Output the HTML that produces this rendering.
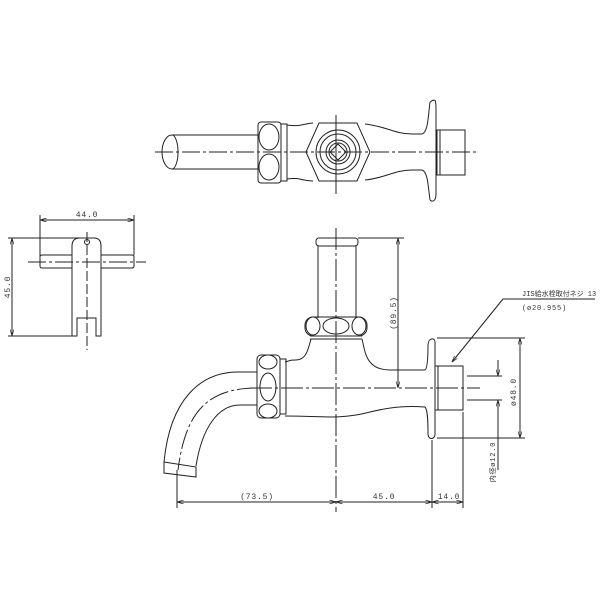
<!DOCTYPE html>
<html><head><meta charset="utf-8"><style>
html,body{margin:0;padding:0;background:#fff;}
svg{display:block;}
text{font-family:"Liberation Mono","Noto Sans CJK JP",monospace;fill:#333;letter-spacing:0.8px;}
</style></head><body>
<svg width="600" height="600" viewBox="0 0 600 600" xmlns="http://www.w3.org/2000/svg">
<defs>
<marker id="a" viewBox="0 0 10 6" refX="10" refY="3" markerWidth="7" markerHeight="4" orient="auto-start-reverse"><path d="M0,0 L10,3 L0,6" fill="none" stroke="#222" stroke-width="1"/></marker>
</defs>
<g fill="none" stroke="#222" stroke-width="1">
<line x1="155" y1="152" x2="476" y2="152" stroke-dasharray="18,3,3,3"/>
<line x1="336" y1="115" x2="336" y2="194"/>
<path d="M258,135 L172,135 A10,17 0 0 0 172,169 L258,169"/>
<path d="M172,135 A6,17 0 0 1 172,169"/>
<rect x="258" y="122" width="23" height="61" rx="3"/>
<ellipse cx="269" cy="137" rx="10" ry="13"/>
<ellipse cx="269" cy="167" rx="10" ry="13"/>
<rect x="281" y="124" width="6" height="57"/>
<path d="M287,125 C300,127 302,124 313,123"/>
<path d="M287,179 C300,177 302,181 313,181"/>
<polygon points="306,152 319,123 357,123 370,152 357,181 319,181"/>
<circle cx="338" cy="152" r="22"/>
<circle cx="338" cy="152" r="18"/>
<circle cx="338" cy="152" r="12"/>
<circle cx="338" cy="152" r="9"/>
<polygon points="338,144 346,152 338,160 330,152"/>
<path d="M365,124 C385,126 395,134 412,134 L422,134 C428,132 428,118 430,102"/>
<path d="M365,180 C385,178 395,170 412,170 L422,170 C428,172 428,186 430,200"/>
<path d="M430,102 C436,98 436,100 436,110 L436,194 C436,202 432,202 430,200"/>
<rect x="437" y="130" width="28" height="45"/>
<line x1="440" y1="130" x2="440" y2="175"/>
<line x1="40" y1="220" x2="134" y2="220" marker-start="url(#a)" marker-end="url(#a)"/>
<line x1="40" y1="215" x2="40" y2="258"/>
<line x1="134" y1="215" x2="134" y2="255"/>
<line x1="12" y1="238" x2="12" y2="336" marker-start="url(#a)" marker-end="url(#a)"/>
<line x1="8" y1="238" x2="90" y2="238"/>
<line x1="8" y1="336" x2="72" y2="336"/>
<path d="M72,336 L72,246 Q72,238 80,238 L94,238 Q101,238 101,246 L101,336 L96,336 L96,318 L77,318 L77,336 Z"/>
<path d="M72,255 L42,255 Q40,255 40,257 L40,266 Q40,268 42,268 L72,268"/>
<path d="M101,255 L132,255 Q134,255 134,257 L134,266 Q134,268 132,268 L101,268"/>
<circle cx="87" cy="242" r="2.5"/>
<line x1="28" y1="262" x2="146" y2="262" stroke-dasharray="18,3,3,3"/>
<line x1="87" y1="232" x2="87" y2="350" stroke-dasharray="10,3"/>
<line x1="336" y1="228" x2="336" y2="512" stroke-dasharray="22,3,3,3"/>
<line x1="250" y1="388" x2="480" y2="388" stroke-dasharray="22,3,3,3"/>
<rect x="316" y="238" width="42" height="8" rx="3"/>
<line x1="318" y1="246" x2="318" y2="318"/>
<line x1="356" y1="246" x2="356" y2="318"/>
<rect x="305" y="317" width="62" height="19" rx="8"/>
<ellipse cx="313" cy="326" rx="7" ry="9"/>
<ellipse cx="336" cy="326" rx="13" ry="8"/>
<ellipse cx="359" cy="326" rx="7" ry="9"/>
<line x1="310" y1="336" x2="362" y2="336"/>
<line x1="310" y1="339" x2="362" y2="339"/>
<path d="M311,339 C308,350 306,360 296,360 C290,360 292,360 285,362"/>
<path d="M362,339 C365,350 365,370 390,370 L425,370 C428,368 428,350 428,345"/>
<path d="M285,416 C320,416 340,420 370,412 C395,406 410,406 425,407 C428,410 428,425 428,434"/>
<path d="M428,345 C428,338 435,337 435,342 L435,434 C435,440 428,440 428,434"/>
<rect x="435" y="366" width="28" height="44"/>
<line x1="438" y1="366" x2="438" y2="410"/>
<rect x="257" y="355" width="23" height="63" rx="4"/>
<rect x="280" y="359" width="6" height="55"/>
<ellipse cx="268" cy="362" rx="9" ry="7"/>
<ellipse cx="268" cy="387" rx="8" ry="14"/>
<ellipse cx="268" cy="411" rx="9" ry="7"/>
<path d="M257,372 L238,372 C200,372 170,400 164,462"/>
<path d="M257,405 L240,405 C218,405 202,428 196,466"/>
<path d="M257,388 C205,388 185,415 178,470" stroke-dasharray="20,3,3,3"/>
<path d="M164,462 L196,467 L196,477 L164,473 Z"/>
<line x1="177" y1="470" x2="177" y2="508"/>
<line x1="432" y1="440" x2="432" y2="508"/>
<line x1="463" y1="412" x2="463" y2="508"/>
<line x1="177" y1="502" x2="336" y2="502" marker-start="url(#a)" marker-end="url(#a)"/>
<line x1="336" y1="502" x2="432" y2="502" marker-start="url(#a)" marker-end="url(#a)"/>
<line x1="432" y1="502" x2="463" y2="502" marker-start="url(#a)" marker-end="url(#a)"/>
<line x1="358" y1="238" x2="404" y2="238"/>
<line x1="398" y1="238" x2="398" y2="388" marker-start="url(#a)" marker-end="url(#a)"/>
<line x1="437" y1="338" x2="525" y2="338"/>
<line x1="437" y1="438" x2="525" y2="438"/>
<line x1="520" y1="338" x2="520" y2="438" marker-start="url(#a)" marker-end="url(#a)"/>
<line x1="467" y1="376" x2="502" y2="376"/>
<line x1="467" y1="400" x2="502" y2="400"/>
<line x1="498" y1="360" x2="498" y2="376" marker-end="url(#a)"/>
<line x1="498" y1="418" x2="498" y2="400" marker-end="url(#a)"/>
<line x1="498" y1="400" x2="498" y2="470"/>
<line x1="595" y1="299" x2="503" y2="299"/>
<line x1="503" y1="299" x2="452" y2="362" marker-end="url(#a)"/>
</g>
<g font-size="8">
<text x="87" y="217" text-anchor="middle">44.0</text>
<text transform="translate(10,287) rotate(-90)" text-anchor="middle">45.0</text>
<text x="257" y="499" text-anchor="middle">(73.5)</text>
<text x="384" y="499" text-anchor="middle">45.0</text>
<text x="449" y="499" text-anchor="middle">14.0</text>
<text transform="translate(396,313) rotate(-90)" text-anchor="middle">(89.5)</text>
<text transform="translate(516,392) rotate(-90)" text-anchor="middle">ø48.0</text>
<text transform="translate(495,462) rotate(-90)" text-anchor="middle" font-size="7">内径ø12.0</text>
<text x="522" y="296" font-size="7" style="letter-spacing:0">JIS給水栓取付ネジ 13</text>
<text x="522" y="310" font-size="7">(ø20.955)</text>
</g>
</svg>
</body></html>
